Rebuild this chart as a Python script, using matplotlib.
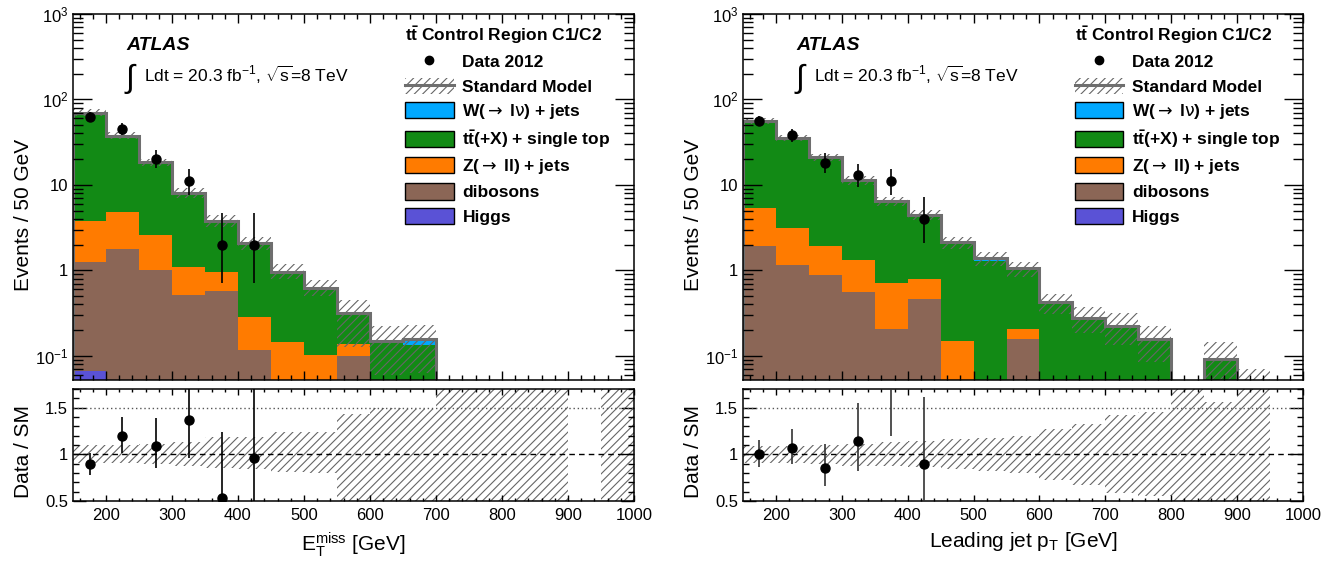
import numpy as np
import matplotlib
matplotlib.use("Agg")
import matplotlib.pyplot as plt
from matplotlib.patches import Patch
from matplotlib.lines import Line2D
from matplotlib.ticker import FixedLocator, FixedFormatter, MultipleLocator, NullFormatter

plt.rcParams["font.family"] = ["Liberation Sans", "DejaVu Sans"]
plt.rcParams["mathtext.fontset"] = "custom"
plt.rcParams["mathtext.rm"] = "Liberation Sans"
plt.rcParams["mathtext.it"] = "Liberation Sans:italic"
plt.rcParams["mathtext.bf"] = "Liberation Sans:bold"
plt.rcParams["mathtext.sf"] = "DejaVu Sans"
plt.rcParams["hatch.linewidth"] = 0.8

nan = np.nan
EDGES = np.arange(150, 1001, 50)

# --- left: E_T^miss (17 bins of 50 GeV, 150-1000) ---
met_higgs = [0.066, 0.03, 0.02, 0.01, 0.01, 0.005, 0, 0, 0, 0, 0, 0, 0, 0, 0, 0, 0]
met_diboson = [1.2, 1.75, 1.0, 0.51, 0.57, 0.113, 0.02, 0.015, 0.1, 0, 0, 0, 0, 0, 0, 0, 0]
met_zjets = [2.47, 3.0, 1.59, 0.56, 0.38, 0.165, 0.125, 0.088, 0.038, 0, 0, 0, 0, 0, 0, 0, 0]
met_ttbar = [65.8, 32.9, 15.7, 6.97, 2.79, 1.79, 0.82, 0.52, 0.18, 0.148, 0.133, 0, 0, 0, 0, 0, 0]
met_wjets = [0, 0, 0, 0, 0, 0, 0, 0, 0, 0, 0.022, 0, 0, 0, 0, 0, 0]
met_data = [62, 45, 20, 11, 2, 2, nan, nan, nan, nan, nan, nan, nan, nan, nan, nan, nan]
met_data_lo = [7.8, 6.7, 4.4, 3.3, 1.29, 1.29, 0, 0, 0, 0, 0, 0, 0, 0, 0, 0, 0]
met_data_hi = [8.9, 7.7, 5.5, 4.4, 2.64, 2.64, 0, 0, 0, 0, 0, 0, 0, 0, 0, 0, 0]
met_band_hi = [1.10, 1.10, 1.11, 1.13, 1.19, 1.19, 1.24, 1.24, 1.43, 1.50, 1.49, 2, 2, 2, 2, nan, 2]
met_band_lo = [0.91, 0.91, 0.90, 0.88, 0.85, 0.84, 0.81, 0.80, 0.40, 0.40, 0.40, 0, 0, 0, 0, nan, 0]

# --- right: leading jet pT ---
jet_higgs = [0.03, 0.02, 0.01, 0, 0, 0, 0, 0, 0, 0, 0, 0, 0, 0, 0, 0, 0]
jet_diboson = [1.91, 1.14, 0.87, 0.553, 0.206, 0.462, 0.02, 0, 0.155, 0, 0, 0, 0, 0, 0, 0, 0]
jet_zjets = [3.41, 1.96, 1.06, 0.78, 0.51, 0.32, 0.13, 0, 0.048, 0, 0, 0, 0, 0, 0, 0, 0]
jet_ttbar = [50.65, 32.4, 19.06, 10.07, 5.73, 3.67, 1.97, 1.27, 0.85, 0.42, 0.277, 0.225, 0.155, 0, 0.092, 0.035, 0]
jet_wjets = [0, 0, 0, 0, 0, 0, 0, 0.11, 0, 0, 0, 0, 0, 0, 0, 0, 0]
jet_data = [56, 38, 18, 13, 11, 4, nan, nan, nan, nan, nan, nan, nan, nan, nan, nan, nan]
jet_data_lo = [7.5, 6.1, 4.2, 3.6, 3.3, 1.9, 0, 0, 0, 0, 0, 0, 0, 0, 0, 0, 0]
jet_data_hi = [8.5, 7.2, 5.3, 4.7, 4.4, 3.2, 0, 0, 0, 0, 0, 0, 0, 0, 0, 0, 0]
jet_band_hi = [1.09, 1.09, 1.10, 1.11, 1.13, 1.14, 1.16, 1.18, 1.20, 1.27, 1.33, 1.42, 1.45, 1.8, 1.56, 2.0, nan]
jet_band_lo = [0.91, 0.91, 0.90, 0.88, 0.87, 0.86, 0.84, 0.82, 0.80, 0.73, 0.67, 0.59, 0.55, 0.3, 0.3, 0.0, nan]

# stack order bottom -> top, legend shows it reversed
PROCESSES = [
    ("Higgs", "#5a52d6"),
    ("dibosons", "#8b6656"),
    (r"Z($\mathsf{\rightarrow}$ ll) + jets", "#ff7b00"),
    (r"$\mathbf{t\bar{t}}$(+X) + single top", "#128a15"),
    (r"W($\mathsf{\rightarrow}$ l$\mathsf{\nu}$) + jets", "#00a8ff"),
]
SM_GREY = "#6e6e6e"
HATCH_GREY = "#666666"
FLOOR = 1e-4


def style_axis(ax, xmaj, xmin_, ymaj, ymin_):
    ax.tick_params(which="both", direction="in", top=True, right=True, labelsize=12, width=1.0)
    ax.tick_params(axis="x", which="major", length=xmaj)
    ax.tick_params(axis="x", which="minor", length=xmin_)
    ax.tick_params(axis="y", which="major", length=ymaj)
    ax.tick_params(axis="y", which="minor", length=ymin_)
    for s in ax.spines.values():
        s.set_linewidth(1.1)


def draw_panel(ax, rax, stack, data, data_lo, data_hi, band_hi, band_lo, xlabel, ratio_ecolor):
    centers = 0.5 * (EDGES[:-1] + EDGES[1:])
    stack = [np.asarray(s, float) for s in stack]
    total = np.sum(stack, axis=0)
    data = np.asarray(data, float)
    data_lo = np.asarray(data_lo, float)
    data_hi = np.asarray(data_hi, float)
    band_hi = np.asarray(band_hi, float)
    band_lo = np.asarray(band_lo, float)

    # stacked backgrounds
    base = np.full_like(total, FLOOR)
    for (label, color), vals in zip(PROCESSES, stack):
        top = base + vals
        ax.stairs(top, EDGES, baseline=base, fill=True, color=color, lw=0)
        base = top

    # SM uncertainty
    has_mc = (total > 0) & ~np.isnan(band_hi)
    lo = np.maximum(total * band_lo, FLOOR)
    ax.bar(EDGES[:-1][has_mc], (total * band_hi - lo)[has_mc], bottom=lo[has_mc], width=50,
           align="edge", facecolor="none", edgecolor=HATCH_GREY, hatch="////", lw=0)
    ax.stairs(np.maximum(total, FLOOR), EDGES, baseline=FLOOR, color=SM_GREY, lw=2.2)

    ok = ~np.isnan(data)
    ax.errorbar(centers[ok], data[ok], yerr=[data_lo[ok], data_hi[ok]], fmt="o", color="k",
                ms=6.5, elinewidth=1.2, capsize=0, zorder=5)

    ax.set_yscale("log")
    ax.set_xlim(150, 1000)
    ax.set_ylim(0.052, 1000)
    ax.yaxis.set_major_locator(FixedLocator([0.1, 1, 10, 100, 1000]))
    ax.yaxis.set_major_formatter(FixedFormatter([r"$10^{-1}$", "1", "10", r"$10^{2}$", r"$10^{3}$"]))
    ax.yaxis.set_minor_locator(FixedLocator([m * 10.0 ** e for e in range(-2, 3) for m in range(2, 10)]))
    ax.yaxis.set_minor_formatter(NullFormatter())
    ax.xaxis.set_major_locator(MultipleLocator(100))
    ax.xaxis.set_minor_locator(MultipleLocator(20))
    ax.xaxis.set_major_formatter(NullFormatter())
    style_axis(ax, 6.5, 3.5, 13.5, 7)
    ax.set_ylabel("Events / 50 GeV", fontsize=15)
    ax.yaxis.set_label_coords(-0.071, 0.45)

    # ratio panel
    has_band = ~np.isnan(band_hi)
    rax.bar(EDGES[:-1][has_band], (band_hi - band_lo)[has_band], bottom=band_lo[has_band], width=50,
            align="edge", facecolor="none", edgecolor=HATCH_GREY, hatch="////", lw=0)
    rax.axhline(1.0, color="k", ls=(0, (4, 3)), lw=1.0)
    rax.axhline(1.5, color="#555555", ls=(0, (1, 2)), lw=1.0)
    rok = ok & (total > 0)
    ratio = data[rok] / total[rok]
    rax.errorbar(centers[rok], ratio, yerr=[data_lo[rok] / total[rok], data_hi[rok] / total[rok]],
                 fmt="none", ecolor=ratio_ecolor, elinewidth=1.2, capsize=0, zorder=5)
    inside = ratio < 1.7
    rax.plot(centers[rok][inside], ratio[inside], "o", color="k", ms=6.5, zorder=6)

    rax.set_xlim(150, 1000)
    rax.set_ylim(0.5, 1.7)
    rax.yaxis.set_major_locator(FixedLocator([0.5, 1.0, 1.5]))
    rax.yaxis.set_major_formatter(FixedFormatter(["0.5", "1", "1.5"]))
    rax.yaxis.set_minor_locator(MultipleLocator(0.1))
    rax.xaxis.set_major_locator(MultipleLocator(100))
    rax.xaxis.set_minor_locator(MultipleLocator(20))
    style_axis(rax, 4.5, 2.5, 9.5, 4.5)
    rax.tick_params(axis="x", pad=5)
    rax.set_ylabel("Data / SM", fontsize=15)
    rax.yaxis.set_label_coords(-0.071, 0.44)
    rax.set_xlabel(xlabel, fontsize=15, va="top")
    rax.xaxis.set_label_coords(0.5, -0.26)

    # labels
    ax.text(0.095, 0.915, "ATLAS", transform=ax.transAxes, fontsize=14, fontweight="bold",
            fontstyle="italic", va="center")
    ax.text(0.093, 0.822, "\u222b", transform=ax.transAxes, fontsize=23, va="center")
    ax.text(0.127, 0.833, r"Ldt = 20.3 fb$^{-1}$, $\sqrt{\mathrm{s}}$=8 TeV", transform=ax.transAxes,
            fontsize=12.5, va="center")

    handles = [
        Line2D([], [], marker="o", color="k", ls="none", ms=6),
        (Patch(facecolor="none", edgecolor=HATCH_GREY, hatch="////", lw=0),
         Line2D([], [], color=SM_GREY, lw=2.2)),
    ]
    labels = ["Data 2012", "Standard Model"]
    for label, color in PROCESSES[::-1]:
        handles.append(Patch(facecolor=color, edgecolor="k", lw=1.0))
        labels.append(label)
    ax.legend(handles, labels, title=r"$\mathbf{t\bar{t}}$ Control Region C1/C2", loc="upper left",
              bbox_to_anchor=(0.592, 0.972), frameon=False, prop={"weight": "bold", "size": 12.5},
              title_fontproperties={"weight": "bold", "size": 12.5}, alignment="left",
              handlelength=2.8, handleheight=1.05, handletextpad=0.5, labelspacing=0.42,
              borderaxespad=0, borderpad=0)


fig = plt.figure(figsize=(13.38, 5.64), dpi=100)
W, H = 1338.0, 564.0
ax_l = fig.add_axes([73 / W, (H - 380) / H, 561 / W, 366 / H])
rax_l = fig.add_axes([73 / W, (H - 501) / H, 561 / W, 112 / H])
ax_r = fig.add_axes([743 / W, (H - 380) / H, 560 / W, 366 / H])
rax_r = fig.add_axes([743 / W, (H - 501) / H, 560 / W, 112 / H])

draw_panel(ax_l, rax_l, [met_higgs, met_diboson, met_zjets, met_ttbar, met_wjets],
           met_data, met_data_lo, met_data_hi, met_band_hi, met_band_lo,
           r"$\mathrm{E}_{\mathrm{T}}^{\mathrm{miss}}$ [GeV]", "k")
draw_panel(ax_r, rax_r, [jet_higgs, jet_diboson, jet_zjets, jet_ttbar, jet_wjets],
           jet_data, jet_data_lo, jet_data_hi, jet_band_hi, jet_band_lo,
           r"Leading jet p$_{\mathrm{T}}$ [GeV]", "#333333")

fig.savefig("out.png", dpi=100)
